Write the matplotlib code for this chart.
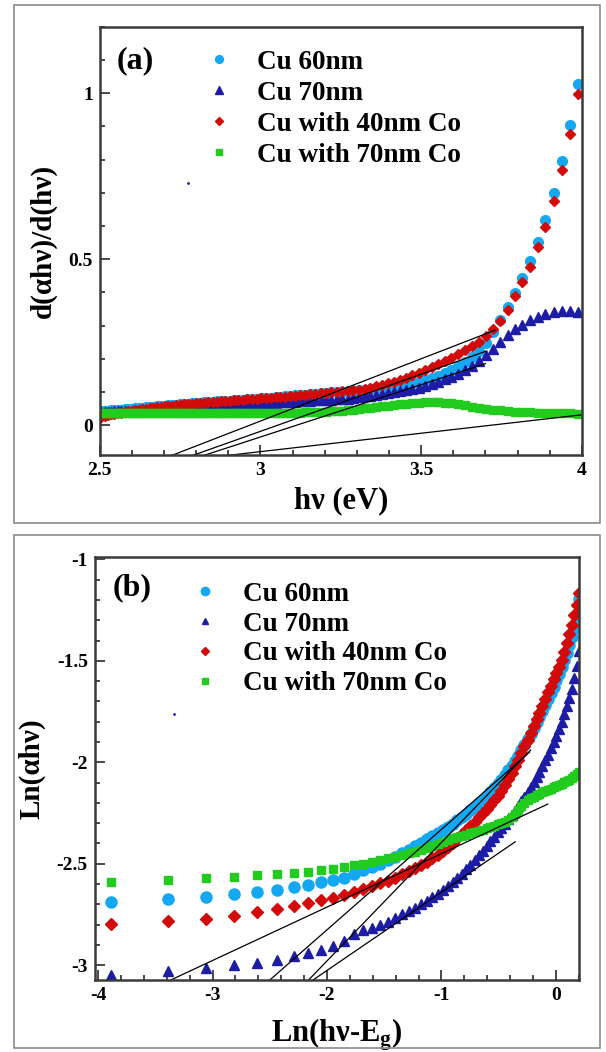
import matplotlib
matplotlib.use('Agg')
import matplotlib.pyplot as plt
from matplotlib.ticker import MultipleLocator, FuncFormatter
from matplotlib.patches import Rectangle

plt.rcParams['font.family'] = ['Liberation Serif', 'DejaVu Serif']
plt.rcParams['font.weight'] = 'bold'
plt.rcParams['axes.labelweight'] = 'bold'
plt.rcParams['axes.unicode_minus'] = False
plt.rcParams['mathtext.fontset'] = 'custom'
plt.rcParams['mathtext.rm'] = 'Liberation Serif:bold'
plt.rcParams['mathtext.it'] = 'Liberation Serif:bold'
plt.rcParams['mathtext.bf'] = 'Liberation Serif:bold'

labels = ['Cu 60nm', 'Cu 70nm', 'Cu with 40nm Co', 'Cu with 70nm Co']
colors = ['#14a8f2', '#1c1ca6', '#d20a0a', '#22cc1e']
markers = ['o', '^', 'D', 's']

# ---------------- panel (a): d(alpha h nu)/d(h nu) vs h nu ----------------
hv_a = [2.505, 2.515, 2.526, 2.536, 2.546, 2.557, 2.567, 2.578, 2.589, 2.600,
        2.611, 2.622, 2.633, 2.644, 2.655, 2.667, 2.678, 2.690, 2.702, 2.713,
        2.725, 2.737, 2.749, 2.762, 2.774, 2.787, 2.799, 2.812, 2.825, 2.838,
        2.851, 2.864, 2.877, 2.890, 2.904, 2.918, 2.931, 2.945, 2.959, 2.974,
        2.988, 3.002, 3.017, 3.032, 3.047, 3.062, 3.077, 3.092, 3.108, 3.123,
        3.139, 3.155, 3.171, 3.188, 3.204, 3.221, 3.238, 3.255, 3.272, 3.289,
        3.307, 3.324, 3.342, 3.360, 3.379, 3.397, 3.416, 3.435, 3.454, 3.473,
        3.493, 3.513, 3.533, 3.553, 3.574, 3.594, 3.615, 3.637, 3.658, 3.680,
        3.702, 3.724, 3.746, 3.769, 3.792, 3.815, 3.839, 3.863, 3.887, 3.912,
        3.937, 3.962, 3.987]

a_cu60 = [.042, .043, .044, .045, .046, .046, .047, .048, .049, .050,
          .051, .052, .053, .054, .055, .056, .057, .058, .059, .060,
          .061, .062, .063, .064, .065, .066, .067, .068, .069, .070,
          .071, .072, .073, .073, .074, .075, .076, .077, .078, .079,
          .080, .081, .082, .083, .085, .086, .087, .088, .090, .091,
          .092, .093, .095, .096, .097, .099, .100, .101, .103, .104,
          .106, .107, .109, .111, .113, .115, .117, .120, .123, .127,
          .131, .136, .141, .148, .157, .167, .178, .191, .206, .224,
          .246, .279, .316, .357, .398, .442, .493, .552, .618, .698,
          .796, .905, 1.028]

a_cu70 = [.040, .040, .041, .041, .042, .042, .043, .043, .044, .044,
          .045, .045, .046, .046, .047, .048, .048, .049, .049, .050,
          .051, .051, .052, .053, .053, .054, .055, .055, .056, .057,
          .058, .058, .059, .060, .060, .061, .062, .063, .063, .064,
          .065, .066, .067, .067, .068, .069, .070, .071, .071, .072,
          .073, .074, .075, .076, .076, .077, .078, .079, .080, .081,
          .085, .087, .089, .091, .094, .096, .099, .102, .105, .109,
          .113, .118, .124, .131, .138, .146, .155, .165, .177, .193,
          .210, .229, .250, .270, .288, .303, .317, .327, .335, .341,
          .343, .343, .340]

a_co40 = [.025, .027, .030, .032, .034, .036, .038, .040, .042, .044,
          .046, .047, .049, .050, .052, .053, .055, .056, .057, .058,
          .059, .060, .062, .063, .064, .065, .066, .067, .068, .069,
          .070, .071, .072, .073, .074, .075, .076, .077, .078, .079,
          .080, .081, .082, .083, .084, .085, .086, .088, .089, .090,
          .091, .093, .094, .096, .097, .099, .100, .102, .103, .105,
          .107, .110, .113, .117, .121, .126, .131, .137, .143, .150,
          .158, .166, .174, .183, .193, .203, .214, .226, .238, .251,
          .267, .289, .315, .348, .390, .431, .476, .535, .597, .675,
          .768, .876, .997]

a_co70 = [.036, .036, .036, .036, .036, .036, .037, .037, .037, .037,
          .037, .037, .037, .037, .037, .037, .037, .037, .037, .037,
          .037, .037, .038, .038, .038, .038, .038, .038, .038, .038,
          .038, .038, .038, .038, .038, .038, .038, .038, .038, .038,
          .038, .038, .038, .038, .038, .038, .038, .038, .038, .038,
          .039, .039, .039, .040, .041, .042, .043, .044, .046, .047,
          .049, .051, .053, .055, .057, .059, .061, .063, .065, .066,
          .068, .069, .069, .069, .068, .066, .063, .060, .056, .053,
          .050, .047, .045, .043, .041, .040, .039, .038, .037, .036,
          .035, .035, .034]

# linear fits drawn in (a): end points (hv, value)
fit_a_x = [(2.725, 3.73), (2.79, 3.70), (2.825, 3.70), (2.90, 4.00)]
fit_a_y = [(-0.091, 0.286), (-0.091, 0.222), (-0.091, 0.185), (-0.091, 0.031)]

# ---------------- panel (b): Ln(alpha h nu) vs Ln(h nu - Eg) ----------------
lnx_b = [-3.885, -3.392, -3.060, -2.810, -2.608, -2.438, -2.292, -2.164, -2.049, -1.945,
         -1.850, -1.762, -1.681, -1.605, -1.534, -1.467, -1.403, -1.343, -1.286, -1.231,
         -1.178, -1.128, -1.080, -1.033, -0.988, -0.944, -0.902, -0.861, -0.822, -0.783,
         -0.746, -0.709, -0.674, -0.639, -0.605, -0.572, -0.539, -0.508, -0.476, -0.446,
         -0.416, -0.387, -0.358, -0.329, -0.301, -0.274, -0.247, -0.220, -0.194, -0.168,
         -0.143, -0.118, -0.093, -0.068, -0.044, -0.020, 0.004, 0.027, 0.050, 0.073,
         0.096, 0.118, 0.140, 0.163, 0.184, 0.206]

b_cu60 = [-2.688, -2.675, -2.662, -2.650, -2.639, -2.629, -2.617, -2.603, -2.591, -2.580,
          -2.568, -2.551, -2.533, -2.516, -2.500, -2.484, -2.465, -2.447, -2.430, -2.413,
          -2.397, -2.380, -2.364, -2.348, -2.332, -2.317, -2.302, -2.286, -2.270, -2.253,
          -2.236, -2.219, -2.202, -2.185, -2.167, -2.147, -2.127, -2.107, -2.085, -2.063,
          -2.040, -2.016, -1.992, -1.967, -1.941, -1.914, -1.887, -1.859, -1.831, -1.803,
          -1.775, -1.746, -1.717, -1.687, -1.657, -1.627, -1.596, -1.563, -1.530, -1.496,
          -1.461, -1.424, -1.383, -1.336, -1.280, -1.195]

b_cu70 = [-3.048, -3.031, -3.015, -3.000, -2.989, -2.972, -2.956, -2.939, -2.923, -2.905,
          -2.880, -2.848, -2.829, -2.816, -2.803, -2.786, -2.767, -2.750, -2.734, -2.718,
          -2.700, -2.683, -2.666, -2.648, -2.630, -2.612, -2.591, -2.570, -2.550, -2.527,
          -2.504, -2.481, -2.459, -2.435, -2.412, -2.390, -2.367, -2.346, -2.324, -2.302,
          -2.281, -2.260, -2.238, -2.215, -2.192, -2.169, -2.145, -2.121, -2.097, -2.072,
          -2.046, -2.019, -1.991, -1.962, -1.932, -1.901, -1.869, -1.836, -1.801, -1.764,
          -1.725, -1.683, -1.637, -1.586, -1.524, -1.450]

b_co40 = [-2.798, -2.782, -2.770, -2.757, -2.740, -2.725, -2.710, -2.695, -2.681, -2.667,
          -2.653, -2.639, -2.625, -2.611, -2.597, -2.583, -2.568, -2.553, -2.538, -2.522,
          -2.506, -2.490, -2.473, -2.456, -2.438, -2.418, -2.397, -2.375, -2.352, -2.333,
          -2.313, -2.293, -2.272, -2.251, -2.230, -2.209, -2.188, -2.165, -2.140, -2.112,
          -2.082, -2.052, -2.020, -1.987, -1.953, -1.921, -1.889, -1.856, -1.823, -1.789,
          -1.756, -1.723, -1.690, -1.656, -1.624, -1.592, -1.561, -1.529, -1.495, -1.458,
          -1.414, -1.368, -1.322, -1.274, -1.226, -1.168]

b_co70 = [-2.588, -2.581, -2.571, -2.565, -2.558, -2.553, -2.547, -2.540, -2.532, -2.524,
          -2.517, -2.508, -2.499, -2.490, -2.482, -2.473, -2.465, -2.457, -2.449, -2.440,
          -2.431, -2.421, -2.411, -2.401, -2.392, -2.383, -2.375, -2.368, -2.362, -2.356,
          -2.350, -2.344, -2.338, -2.332, -2.326, -2.319, -2.312, -2.306, -2.300, -2.294,
          -2.285, -2.272, -2.255, -2.236, -2.218, -2.201, -2.188, -2.178, -2.170, -2.163,
          -2.156, -2.149, -2.143, -2.137, -2.131, -2.124, -2.118, -2.112, -2.105, -2.099,
          -2.092, -2.085, -2.078, -2.070, -2.060, -2.050]

fit_b_x = [(-3.43, -0.07), (-2.534, -0.23), (-2.19, -0.22), (-2.166, -0.355)]
fit_b_y = [(-3.09, -2.206), (-3.09, -1.95), (-3.09, -1.94), (-3.09, -2.392)]

# stray points present in the original picture
stray_a = (2.775, 0.729)
stray_b = (-3.334, -1.762)

W, H = 606, 1052
fig = plt.figure(figsize=(W / 100, H / 100), dpi=100)

# outer grey frames around each panel
for (x0, y0, x1, y1) in [(13.5, 5, 600, 523), (13.5, 535, 600, 1048)]:
    fig.add_artist(Rectangle((x0 / W, 1 - y1 / H), (x1 - x0) / W, (y1 - y0) / H,
                             transform=fig.transFigure, fill=False,
                             ec='#8a8a8a', lw=1.2))

ax_a = fig.add_axes([99.7 / W, 1 - 455 / H, 482.1 / W, 428.3 / H])
ax_b = fig.add_axes([94.7 / W, 1 - 980 / H, 484 / W, 423.3 / H])

fmt = FuncFormatter(lambda v, p: '%g' % round(v, 3))


def style(ax):
    for s in ax.spines.values():
        s.set_linewidth(1.8)
        s.set_color('#3a3a3a')
    ax.tick_params(which='both', direction='in', top=False, right=False,
                   width=1.3, color='#3a3a3a', labelsize=14, pad=5)
    ax.tick_params(which='major', length=7)
    ax.tick_params(which='minor', length=3.5)
    ax.xaxis.set_major_formatter(fmt)
    ax.yaxis.set_major_formatter(fmt)
    for t in ax.get_xticklabels() + ax.get_yticklabels():
        t.set_fontweight('bold')


# panel (a)
ms_a = [7.0, 6.5, 5.6, 6.0]
for y, lab, c, m, s in zip([a_cu60, a_cu70, a_co40, a_co70], labels, colors, markers, ms_a):
    ax_a.plot(hv_a, y, linestyle='none', marker=m, ms=s, color=c, mec=c, label=lab)
for xs, ys in zip(fit_a_x, fit_a_y):
    ax_a.plot(xs, ys, color='black', lw=0.9)
ax_a.plot(*stray_a, marker='.', ms=2, color=colors[1])
ax_a.set_xlim(2.5, 4.0)
ax_a.set_ylim(-0.09, 1.2)
ax_a.xaxis.set_major_locator(MultipleLocator(0.5))
ax_a.xaxis.set_minor_locator(MultipleLocator(0.1))
ax_a.yaxis.set_major_locator(MultipleLocator(0.5))
ax_a.yaxis.set_minor_locator(MultipleLocator(0.1))
style(ax_a)
ax_a.set_xlabel('hν (eV)', fontsize=22, fontweight='bold', labelpad=5)
ax_a.set_ylabel('d(αhν)/d(hν)', fontsize=21, fontweight='bold', labelpad=8)
ax_a.text(0.036, 0.92, '(a)', transform=ax_a.transAxes, fontsize=23,
          fontweight='bold', va='center', ha='left')
ax_a.legend(loc='upper left', bbox_to_anchor=(0.226, 0.946), frameon=False,
            prop={'size': 19.5, 'weight': 'bold'}, handlelength=0.8,
            handletextpad=1.0, labelspacing=0.22, borderpad=0,
            borderaxespad=0, markerscale=0.8)

# panel (b)
ms_b = [8.0, 6.5, 6.0, 6.0]
for y, lab, c, m, s in zip([b_cu60, b_cu70, b_co40, b_co70], labels, colors, markers, ms_b):
    ax_b.plot(lnx_b, y, linestyle='none', marker=m, ms=s, color=c, mec=c, label=lab)
for xs, ys in zip(fit_b_x, fit_b_y):
    ax_b.plot(xs, ys, color='black', lw=0.9)
ax_b.plot(*stray_b, marker='.', ms=2, color=colors[1])
ax_b.set_xlim(-4.03, 0.2)
ax_b.set_ylim(-3.073, -0.987)
ax_b.xaxis.set_major_locator(MultipleLocator(1))
ax_b.xaxis.set_minor_locator(MultipleLocator(0.2))
ax_b.yaxis.set_major_locator(MultipleLocator(0.5))
ax_b.yaxis.set_minor_locator(MultipleLocator(0.1))
style(ax_b)
ax_b.set_xlabel('Ln(hν-E$_{g}$)', fontsize=22, fontweight='bold', labelpad=9)
ax_b.set_ylabel('Ln(αhν)', fontsize=21, fontweight='bold', labelpad=8)
ax_b.text(0.038, 0.926, '(b)', transform=ax_b.transAxes, fontsize=23,
          fontweight='bold', va='center', ha='left')
ax_b.legend(loc='upper left', bbox_to_anchor=(0.205, 0.941), frameon=False,
            prop={'size': 19.5, 'weight': 'bold'}, handlelength=0.8,
            handletextpad=1.0, labelspacing=0.18, borderpad=0,
            borderaxespad=0, markerscale=0.75)

fig.savefig('out.png', dpi=100)
